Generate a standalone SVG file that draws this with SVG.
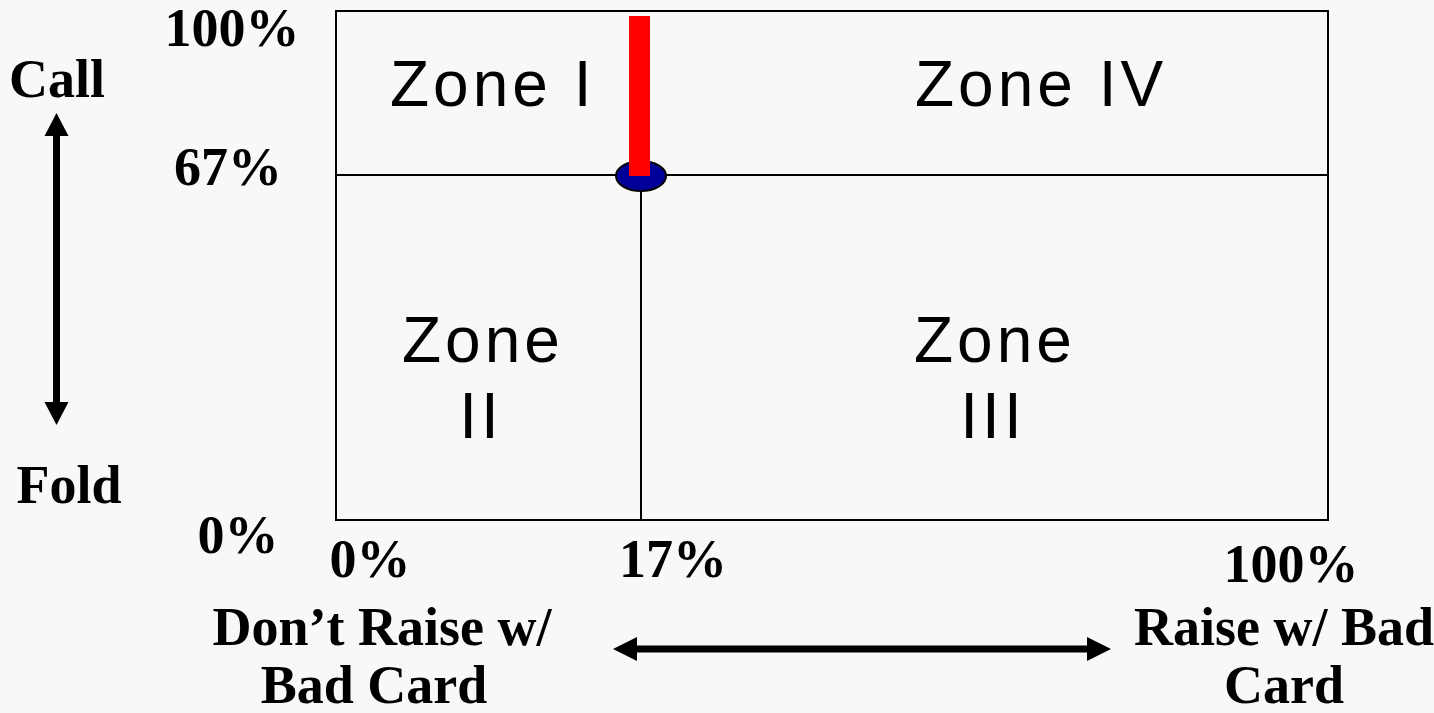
<svg xmlns="http://www.w3.org/2000/svg" width="1434" height="713" viewBox="0 0 1434 713">
<style>
.lbl{font-family:"Liberation Serif","Times New Roman",serif;font-weight:bold;font-size:54px;fill:#000}
.zone{font-family:"Liberation Sans",Arial,sans-serif;font-size:64px;letter-spacing:4px;fill:#000}
.ln{stroke:#000;stroke-width:2;fill:none}
.head{fill:#000}
</style>
<rect width="1434" height="713" fill="#f8f8f8"/>
<g id="grid">
<rect x="336" y="11" width="992" height="509" class="ln"/>
<line x1="336" y1="175" x2="1328" y2="175" class="ln"/>
<line x1="641" y1="175" x2="641" y2="520" class="ln"/>
</g>
<g id="zone1"><text class="zone" x="390" y="106">Zone I</text></g>
<g id="zone4"><text class="zone" x="915" y="106">Zone IV</text></g>
<g id="zone2"><text class="zone" x="402" y="362">Zone</text><text class="zone" x="481" y="438" text-anchor="middle">II</text></g>
<g id="zone3"><text class="zone" x="914" y="362">Zone</text><text class="zone" x="993" y="438" text-anchor="middle">III</text></g>
<g id="marker-point">
<ellipse cx="641" cy="176" rx="25" ry="15" fill="#000099" stroke="#000" stroke-width="2"/>
<rect x="629" y="16" width="21" height="160" fill="#ff0000"/>
</g>
<g id="connectors">
<line x1="56.5" y1="134" x2="56.5" y2="404" stroke="#000" stroke-width="7"/>
<polygon class="head" points="56.5,113 68.5,136 44.5,136"/>
<polygon class="head" points="56.5,425 68.5,402 44.5,402"/>
<line x1="634" y1="649" x2="1090" y2="649" stroke="#000" stroke-width="7"/>
<polygon class="head" points="613,649 637,637 637,661"/>
<polygon class="head" points="1111,649 1087,637 1087,661"/>
</g>
<g id="labels">
<text class="lbl" x="232" y="46" text-anchor="middle">100%</text>
<text class="lbl" x="57" y="97" text-anchor="middle">Call</text>
<text class="lbl" x="228" y="185" text-anchor="middle">67%</text>
<text class="lbl" x="69" y="503" text-anchor="middle">Fold</text>
<text class="lbl" x="238" y="553" text-anchor="middle">0%</text>
<text class="lbl" x="370" y="577" text-anchor="middle">0%</text>
<text class="lbl" x="673" y="577" text-anchor="middle">17%</text>
<text class="lbl" x="1291" y="582" text-anchor="middle">100%</text>
<text class="lbl" x="382" y="645" text-anchor="middle">Don’t Raise w/</text>
<text class="lbl" x="374" y="703" text-anchor="middle">Bad Card</text>
<text class="lbl" x="1284" y="645" text-anchor="middle">Raise w/ Bad</text>
<text class="lbl" x="1284" y="703" text-anchor="middle">Card</text>
</g>
</svg>
